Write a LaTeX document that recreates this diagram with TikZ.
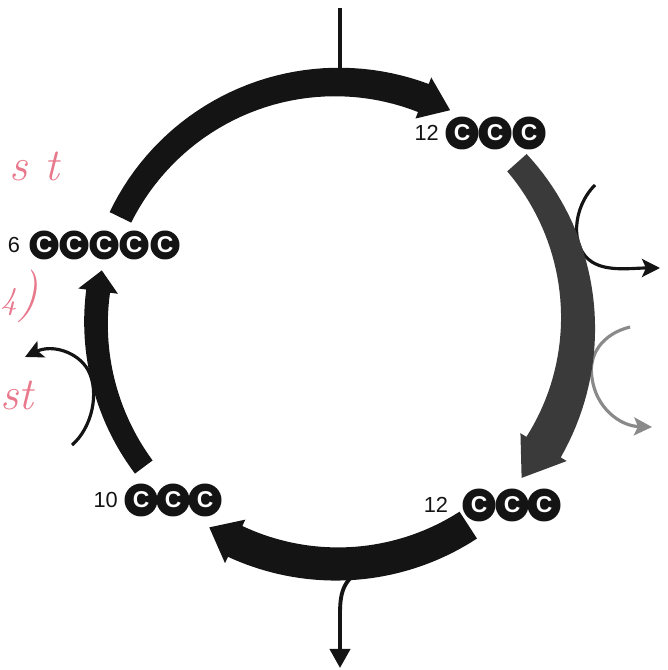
\documentclass[tikz,border=0pt]{standalone}
\usepackage{fontspec}
\usetikzlibrary{arrows.meta,positioning}
\newfontfamily\labelfont{Liberation Sans}

\definecolor{ink}{HTML}{141414}
\definecolor{darkink}{HTML}{3A3A3A}
\definecolor{lightink}{HTML}{8A8A8A}
\definecolor{pencil}{RGB}{232,120,140}

% thick tapered arc arrow round the origin
% #1 tail angle, #2 head base angle, #3 tip angle,
% #4 half width at tail, #5 half width at head, #6 half width of head, #7 colour
\newcommand{\cyclearrow}[7]{%
  \fill[#7] plot[domain=#1:#2, samples=40] (\x:{\cyclerad+#4+(#5-#4)*(\x-#1)/(#2-#1)})
    -- (#2:{\cyclerad+#6}) -- (#3:\cyclerad) -- (#2:{\cyclerad-#6})
    -- plot[domain=#2:#1, samples=40] (\x:{\cyclerad-#4-(#5-#4)*(\x-#1)/(#2-#1)}) -- cycle;
}
\newcommand{\cyclerad}{2.41}

\begin{document}
\begin{tikzpicture}[
  carbon/.style={circle, fill=ink, text=white, inner sep=0pt, minimum size=#1,
    font=\labelfont\bfseries\fontsize{6.5}{6.5}\selectfont},
  carbon/.default=0.33cm,
  count/.style={font=\labelfont\fontsize{6.2}{7}\selectfont, text=ink, inner sep=0pt},
  side/.style={line width=0.9pt, -{Stealth[length=1.8mm,width=1.8mm,inset=0.4mm]}},
  scribble/.style={text=pencil, font=\itshape\fontsize{13}{14}\selectfont, inner sep=0pt}
]

% frame
\clip (0,0) rectangle (6.68,6.70);

% handwritten notes
\node[scribble, anchor=base west] (noteA) at (0.09,4.89) {s\hspace{4.8pt}t};
\node[scribble, anchor=west] (noteB) at (0.00,3.74) {{\fontsize{9}{9}\selectfont 4}{\fontsize{15}{16}\selectfont )}};
\node[scribble, anchor=base west] (noteC) at (0.00,2.60) {st};

% in and out
\coordinate (co2in) at (3.40,6.62);
\coordinate (topband) at (3.40,6.00);
\draw[line width=1.1pt, ink] (co2in) -- (topband);

\coordinate (outstart) at (3.62,1.00);
\coordinate (outend) at (3.40,0.02);
\draw[side, line width=1.1pt, ink, -{Triangle[length=1.9mm,width=2mm]}]
  (outstart) .. controls (3.42,0.90) and (3.40,0.75) .. (3.40,0.55) -- (outend);

\coordinate (rightA) at (5.95,4.85);
\coordinate (rightAend) at (6.60,4.02);
\draw[side, ink] (rightA) .. controls (5.72,4.62) and (5.70,4.22) .. (5.92,4.08)
  .. controls (6.08,3.98) and (6.32,4.02) .. (rightAend);

\coordinate (rightB) at (6.30,3.43);
\coordinate (rightBend) at (6.52,2.43);
\draw[side, lightink] (rightB) .. controls (6.02,3.36) and (5.88,3.15) .. (5.92,2.92)
  .. controls (5.96,2.62) and (6.20,2.44) .. (rightBend);

\coordinate (leftA) at (0.72,2.25);
\coordinate (leftAend) at (0.25,3.13);
\draw[side, ink] (leftA) .. controls (0.92,2.42) and (1.00,2.78) .. (0.88,3.00)
  .. controls (0.78,3.18) and (0.52,3.26) .. (leftAend);

% cycle
\begin{scope}[shift={(3.37,3.47)}]
  \cyclearrow{154}{69}{62}{0.12}{0.15}{0.22}{ink}
  \cyclearrow{41.7}{-31}{-40}{0.13}{0.20}{0.27}{darkink}
  \cyclearrow{-57}{-115}{-122}{0.16}{0.17}{0.24}{ink}
  \cyclearrow{216.7}{172.4}{167.4}{0.11}{0.12}{0.20}{ink}
\end{scope}

% molecules
\foreach \i/\x in {1/4.62,2/4.95,3/5.29}
  \node[carbon] (tr\i) at (\x,5.37) {C};
\node[count, left=1.5pt of tr1] (trnum) {12};

\foreach \i/\x in {1/4.79,2/5.12,3/5.44}
  \node[carbon] (br\i) at (\x,1.65) {C};
\node[count, left=3.7pt of br1] (brnum) {12};

\foreach \i/\x in {1/1.41,2/1.73,3/2.05}
  \node[carbon] (bl\i) at (\x,1.70) {C};
\node[count, left=1.5pt of bl1] (blnum) {10};

\foreach \i/\x in {1/0.44,2/0.74,3/1.04,4/1.34,5/1.65}
  \node[carbon=0.29cm] (l\i) at (\x,4.25) {C};
\node[count, left=2.3pt of l1] (lnum) {6};

\end{tikzpicture}
\end{document}
